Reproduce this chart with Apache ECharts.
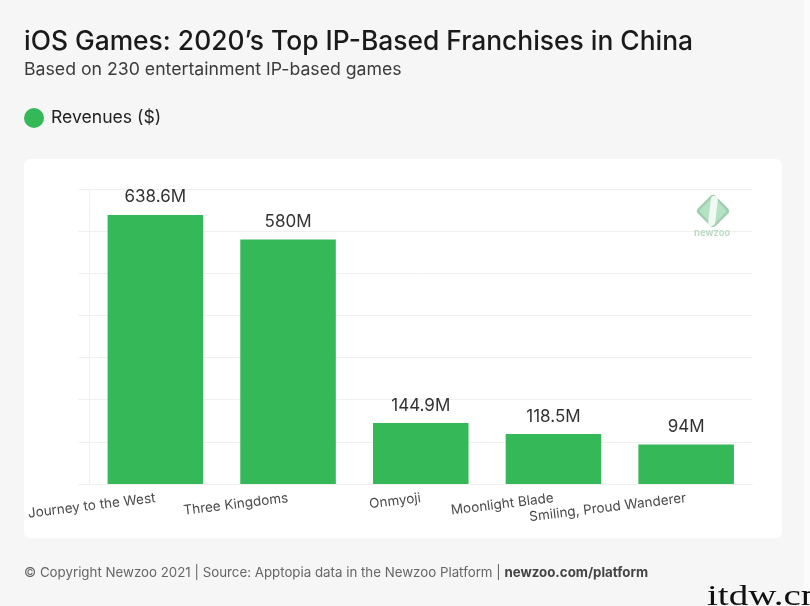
<!DOCTYPE html>
<html>
<head>
    <meta charset="utf-8">
    <title>iOS Games: 2020's Top IP-Based Franchises in China</title>
    <script src="https://cdn.jsdelivr.net/npm/echarts@6/dist/echarts.min.js"></script>
    <style>
        html, body { margin: 0; padding: 0; background: #f6f6f6; }
        #chart { width: 810px; height: 606px; }
    </style>
</head>
<body>
    <div id="chart"></div>
    <script type="text/javascript">
    var franchises = ['Journey to the West', 'Three Kingdoms', 'Onmyoji', 'Moonlight Blade', 'Smiling, Proud Wanderer'];
    var revenues = [638.6, 580, 144.9, 118.5, 94];
    var seriesName = 'Revenues ($)';

    var font = 'Inter';
    var myChart = echarts.init(document.getElementById('chart'));

    myChart.setOption({
        animation: false,
        backgroundColor: '#f6f6f6',
        textStyle: { fontFamily: font },
        title: {
            text: 'iOS Games: 2020’s Top IP-Based Franchises in China',
            subtext: 'Based on 230 entertainment IP-based games',
            left: 24,
            top: 29,
            padding: 0,
            itemGap: 6,
            textStyle: { fontFamily: font, fontSize: 26.4, fontWeight: 500, color: '#1a1a1a' },
            subtextStyle: { fontFamily: font, fontSize: 17.7, color: '#3c3c3c' }
        },
        legend: {
            left: 24,
            top: 108,
            padding: 0,
            icon: 'circle',
            itemWidth: 20,
            itemHeight: 20,
            selectedMode: false,
            textStyle: { fontFamily: font, fontSize: 17.6, color: '#222', padding: [2, 0, 0, 2] },
            data: [seriesName]
        },
        grid: { left: 89, right: 57.5, top: 189, bottom: 122 },
        xAxis: {
            type: 'category',
            data: franchises,
            axisLine: { lineStyle: { color: '#f0f0f0' } },
            axisTick: { show: false },
            axisLabel: { interval: 0, rotate: 7, margin: 14, fontSize: 13.5, color: '#4a4a4a', fontFamily: font }
        },
        yAxis: {
            type: 'value',
            min: 0,
            max: 700,
            interval: 100,
            axisLine: { show: true, lineStyle: { color: '#f0f0f0' } },
            axisTick: { show: true, length: 11, lineStyle: { color: '#f0f0f0' } },
            axisLabel: { show: false },
            splitLine: { lineStyle: { color: '#f0f0f0' } }
        },
        series: [{
            name: seriesName,
            type: 'bar',
            data: revenues,
            barWidth: '72%',
            itemStyle: { color: '#35b858' },
            label: {
                show: true,
                position: 'top',
                distance: 9,
                fontFamily: font,
                fontSize: 17,
                color: '#333',
                formatter: function (p) { return p.value + 'M'; }
            }
        }],
        graphic: [
            { type: 'rect', z: -10, shape: { x: 24, y: 159, width: 758, height: 379, r: 6 }, style: { fill: '#fff' } },
            { type: 'rect', z: -10, shape: { x: 804, y: 0, width: 6, height: 606 }, style: { fill: '#fbfbfb' } },
            // newzoo watermark
            { type: 'rect', z: 5, x: 713, y: 211, rotation: Math.PI / 4,
              shape: { x: -12.5, y: -12.5, width: 25, height: 25, r: 4 }, style: { fill: '#a3cdb1' } },
            { type: 'rect', z: 6, x: 713, y: 211, rotation: Math.PI / 4,
              shape: { x: -10, y: -10, width: 20, height: 20, r: 2 }, style: { fill: '#b4e3c4' } },
            { type: 'rect', z: 7, x: 713, y: 211, rotation: -0.12,
              shape: { x: -3.5, y: -15, width: 7, height: 30, r: 3.5 }, style: { fill: '#f0faf3' } },
            { type: 'text', z: 7, left: 694, top: 228,
              style: { text: 'newzoo', fontFamily: 'Inter', fontSize: 9.5, fontWeight: 700, fill: '#bcdcc6' } },
            // footer
            { type: 'text', left: 24, top: 566,
              style: {
                  text: '{a|© Copyright Newzoo 2021 | Source: Apptopia data in the Newzoo Platform | }{b|newzoo.com/platform}',
                  rich: {
                      a: { fontFamily: font, fontSize: 13.3, fill: '#666', color: '#666' },
                      b: { fontFamily: font, fontSize: 13.3, fontWeight: 700, fill: '#444', color: '#444' }
                  }
              } },
            // site stamp
            { type: 'text', x: 707, y: 582, scaleX: 1.3,
              style: { text: 'itdw.cn', fontFamily: 'Liberation Serif', fontSize: 30, fill: '#111' } }
        ]
    });
    </script>
</body>
</html>
